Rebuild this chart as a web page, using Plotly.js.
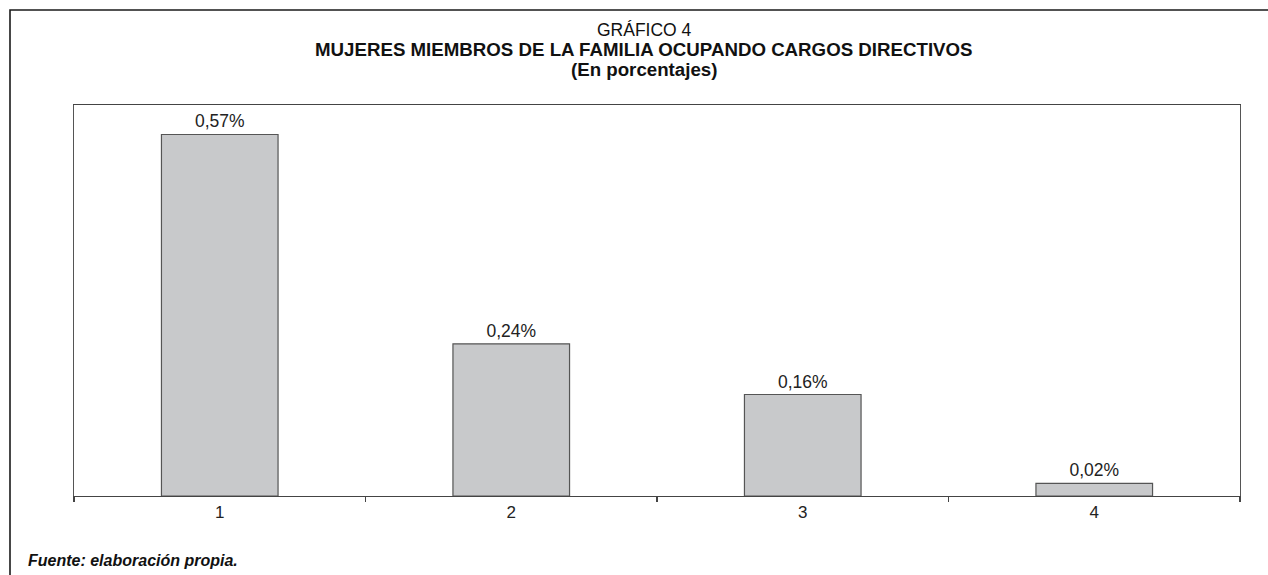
<!DOCTYPE html>
<html>
<head>
<meta charset="utf-8">
<script src="https://cdn.plot.ly/plotly-3.0.1.min.js"></script>
<style>
  html, body { margin: 0; padding: 0; background: #fff; }
  #chart { width: 1268px; height: 575px; }
</style>
</head>
<body>
<div id="chart"></div>
<script>
// ---- Data ----
const categories = ['1', '2', '3', '4'];
const values = [0.57, 0.24, 0.16, 0.02];
const valueLabels = ['0,57%', '0,24%', '0,16%', '0,02%'];
const titleLines = ['GRÁFICO 4', 'MUJERES MIEMBROS DE LA FAMILIA OCUPANDO CARGOS DIRECTIVOS', '(En porcentajes)'];
const sourceNote = 'Fuente: elaboración propia.';

// ---- Layout geometry ----
const W = 1268, H = 575;
const M = { l: 74, r: 28, t: 105, b: 79 };
const PW = W - M.l - M.r, PH = H - M.t - M.b;
const px2x = p => (p - M.l) / PW;
const px2y = p => (H - M.b - p) / PH;

const FONT = 'Liberation Sans, Arial, Helvetica, sans-serif';

const trace = {
  type: 'bar',
  x: categories,
  y: values,
  text: valueLabels,
  textposition: 'outside',
  textfont: { family: FONT, size: 17.5, color: '#222' },
  constraintext: 'none',
  cliponaxis: false,
  marker: { color: '#c8c9cb', line: { color: '#555', width: 1.2 } },
  hoverinfo: 'skip'
};

const titleCX = px2x(644);
const layout = {
  width: W, height: H,
  margin: M,
  paper_bgcolor: '#fff',
  plot_bgcolor: '#fff',
  showlegend: false,
  bargap: 0.6,
  font: { family: FONT, color: '#222' },
  xaxis: {
    type: 'category',
    showgrid: false, zeroline: false,
    showline: true, linecolor: '#444', linewidth: 1.2, mirror: true,
    ticks: 'outside', tickson: 'boundaries', ticklen: 5, tickcolor: '#444', tickwidth: 1.2,
    tickfont: { family: FONT, size: 17, color: '#222' }
  },
  yaxis: {
    range: [0, 0.6165],
    showgrid: false, zeroline: false,
    showline: true, linecolor: '#555', linewidth: 1.2, mirror: true,
    showticklabels: false, ticks: ''
  },
  shapes: [{
    type: 'path', xref: 'paper', yref: 'paper',
    path: 'M ' + px2x(10) + ' ' + px2y(590) + ' L ' + px2x(10) + ' ' + px2y(10) + ' L ' + px2x(1290) + ' ' + px2y(10),
    line: { color: '#1a1a1a', width: 1.6 }
  }],
  annotations: [
    {
      text: titleLines[0],
      xref: 'paper', yref: 'paper', x: titleCX, y: px2y(30),
      xanchor: 'center', yanchor: 'middle', showarrow: false,
      font: { family: FONT, size: 17.5, color: '#111' }
    },
    {
      text: '<b>' + titleLines[1] + '</b>',
      xref: 'paper', yref: 'paper', x: titleCX, y: px2y(50),
      xanchor: 'center', yanchor: 'middle', showarrow: false,
      font: { family: FONT, size: 18.7, color: '#111' }
    },
    {
      text: '<b>' + titleLines[2] + '</b>',
      xref: 'paper', yref: 'paper', x: titleCX, y: px2y(69.5),
      xanchor: 'center', yanchor: 'middle', showarrow: false,
      font: { family: FONT, size: 18.7, color: '#111' }
    },
    {
      text: '<b><i>' + sourceNote + '</i></b>',
      xref: 'paper', yref: 'paper',
      x: px2x(26), y: px2y(571), xanchor: 'left', yanchor: 'bottom',
      showarrow: false,
      font: { family: FONT, size: 16, color: '#111' }
    }
  ]
};

Plotly.newPlot('chart', [trace], layout, { displayModeBar: false, staticPlot: true });
</script>
</body>
</html>
